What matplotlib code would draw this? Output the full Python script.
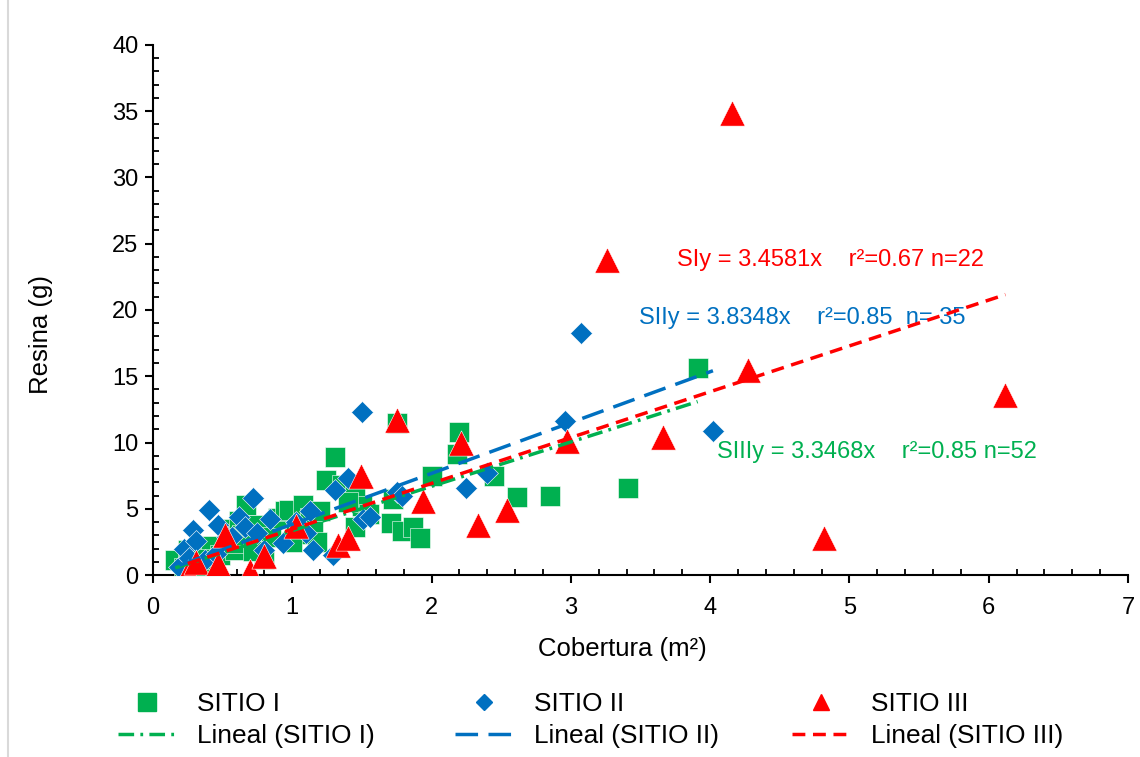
import matplotlib
matplotlib.use("Agg")
import matplotlib.pyplot as plt
from matplotlib.lines import Line2D
from matplotlib.ticker import MultipleLocator
import numpy as np

plt.rcParams['font.family'] = ['Liberation Sans', 'DejaVu Sans']

# ---- data ----
s1_x = [0.16, 0.22, 0.28, 0.35, 0.42, 0.48, 0.53, 0.59, 0.62, 0.67,
        0.70, 0.75, 0.80, 0.85, 0.90, 0.95, 0.98, 1.03, 1.08, 1.13,
        1.15, 1.18, 1.24, 1.31, 1.36, 1.45, 1.45, 1.50, 1.55, 1.71,
        1.72, 1.75, 1.79, 1.87, 1.92, 2.00, 2.18, 2.20, 2.45, 2.61,
        2.85, 3.41, 3.91, 0.25, 0.38, 0.58, 0.64, 0.72, 1.20, 1.40,
        0.30, 1.00]
s1_y = [1.1, 0.5, 1.6, 0.8, 2.2, 1.5, 3.5, 1.9, 4.1, 5.3,
        2.6, 3.8, 1.2, 2.9, 4.3, 4.8, 4.9, 3.1, 5.3, 4.3,
        3.4, 2.5, 7.2, 8.9, 6.8, 6.2, 3.6, 5.2, 4.6, 3.9,
        5.7, 11.5, 3.3, 3.6, 2.8, 7.5, 9.1, 10.8, 7.5, 5.9,
        6.0, 6.6, 15.6, 1.9, 1.2, 2.4, 3.0, 1.8, 4.8, 5.5,
        0.3, 2.5]

s2_x = [0.19, 0.22, 0.29, 0.31, 0.37, 0.40, 0.47, 0.53, 0.57, 0.62,
        0.66, 0.72, 0.75, 0.84, 0.93, 1.03, 1.13, 1.15, 1.29, 1.31,
        1.40, 1.50, 1.51, 1.56, 1.75, 1.79, 2.25, 2.40, 2.96, 3.07,
        4.02, 0.45, 0.80, 0.26, 1.10]
s2_y = [0.6, 2.0, 3.4, 2.6, 1.1, 4.9, 3.8, 2.9, 2.9, 4.4,
        3.6, 5.8, 3.2, 4.2, 2.4, 4.0, 4.8, 1.9, 1.5, 6.4,
        7.3, 12.3, 4.2, 4.4, 6.3, 6.0, 6.6, 7.7, 11.6, 18.3,
        10.9, 1.6, 1.9, 1.3, 3.2]

s3_x = [0.25, 0.31, 0.47, 0.52, 0.70, 0.80, 1.03, 1.33, 1.40, 1.49,
        1.75, 1.94, 2.21, 2.33, 2.54, 2.97, 3.26, 3.66, 4.16, 4.27,
        4.82, 6.12]
s3_y = [0.2, 1.0, 0.8, 3.0, 0.3, 1.4, 3.7, 2.3, 2.8, 7.5,
        11.7, 5.6, 10.0, 3.8, 4.9, 10.1, 23.8, 10.4, 34.9, 15.5,
        2.8, 13.6]

slope_s1 = 3.3468
slope_s2 = 3.8348
slope_s3 = 3.4581

names = ["SITIO I", "SITIO II", "SITIO III"]
lin_names = ["Lineal (SITIO I)", "Lineal (SITIO II)", "Lineal (SITIO III)"]
eq_texts = ["SIy = 3.4581x    r²=0.67 n=22",
            "SIIy = 3.8348x    r²=0.85  n= 35",
            "SIIIy = 3.3468x    r²=0.85 n=52"]

GREEN = "#00B050"
BLUE = "#0070C0"
RED = "#FF0000"

DASH1 = (4.5, 1.8, 0.8, 1.8)
DASH2 = (6.5, 3.0)
DASH3 = (3.7, 2.2)
LW = 2.5

fig = plt.figure(figsize=(11.4, 7.57), dpi=100)
ax = fig.add_axes([0.1342, 0.2404, 0.8553, 0.7002])

ax.scatter(s1_x, s1_y, marker='s', s=190, color=GREEN, edgecolors='white',
           linewidths=0.4, zorder=3)
ax.scatter(s2_x, s2_y, marker='D', s=125, color=BLUE, edgecolors='white',
           linewidths=0.4, zorder=4)
ax.scatter(s3_x, s3_y, marker='^', s=330, color=RED, edgecolors='white',
           linewidths=0.4, zorder=5)

def trend(xs, slope):
    xx = np.array([min(xs), max(xs)])
    return xx, slope * xx

x1, y1 = trend(s1_x, slope_s1)
x2, y2 = trend(s2_x, slope_s2)
x3, y3 = trend(s3_x, slope_s3)
ax.plot(x1, y1, color=GREEN, lw=LW, dashes=DASH1, zorder=6)
ax.plot(x2, y2, color=BLUE, lw=LW, dashes=DASH2, zorder=6)
ax.plot(x3, y3, color=RED, lw=LW, dashes=DASH3, zorder=7)

ax.text(3.76, 23.8, eq_texts[0], color=RED, fontsize=17, va='center', ha='left')
ax.text(3.49, 19.4, eq_texts[1], color=BLUE, fontsize=17, va='center', ha='left')
ax.text(4.05, 9.3, eq_texts[2], color=GREEN, fontsize=17, va='center', ha='left')

ax.set_xlim(0, 7)
ax.set_ylim(0, 40)
ax.xaxis.set_major_locator(MultipleLocator(1))
ax.xaxis.set_minor_locator(MultipleLocator(0.2))
ax.yaxis.set_major_locator(MultipleLocator(5))
ax.yaxis.set_minor_locator(MultipleLocator(1))
ax.tick_params(which='major', direction='out', length=5.5, width=1.5,
               labelsize=17)
ax.tick_params(axis='x', which='major', pad=10)
ax.tick_params(axis='y', which='major', pad=5)
ax.tick_params(which='minor', direction='in', length=4, width=1.3)
for sp in ['top', 'right']:
    ax.spines[sp].set_visible(False)
for sp in ['left', 'bottom']:
    ax.spines[sp].set_linewidth(1.5)

ax.set_xlabel("Cobertura (m²)", fontsize=18.5)
ax.xaxis.set_label_coords(0.481, -0.1396)
ax.xaxis.label.set_va('center')
ax.set_ylabel("Resina (g)", fontsize=18.5)
ax.yaxis.set_label_coords(-0.115, 0.453)
ax.yaxis.label.set_va('center')

col_handles = [
    (Line2D([], [], ls='none', marker='s', ms=13.5, color=GREEN),
     Line2D([], [], color=GREEN, lw=LW, dashes=DASH1)),
    (Line2D([], [], ls='none', marker='D', ms=8, color=BLUE),
     Line2D([], [], color=BLUE, lw=LW, dashes=DASH2)),
    (Line2D([], [], ls='none', marker='^', ms=12, color=RED),
     Line2D([], [], color=RED, lw=LW, dashes=DASH3)),
]
col_x = [118, 455, 792]
for i in range(3):
    leg = fig.legend(list(col_handles[i]), [names[i], lin_names[i]],
                     loc='upper left',
                     bbox_to_anchor=(col_x[i] / 1140, 1 - 692 / 757),
                     frameon=False, fontsize=18.9, handlelength=2.2,
                     handletextpad=0.8, labelspacing=0.32,
                     borderaxespad=0, borderpad=0)

fig.add_artist(Line2D([0.007, 0.007], [0.0, 1.0], color='#D9D9D9', lw=1.5,
                      transform=fig.transFigure))

fig.savefig("out.png", dpi=100)
